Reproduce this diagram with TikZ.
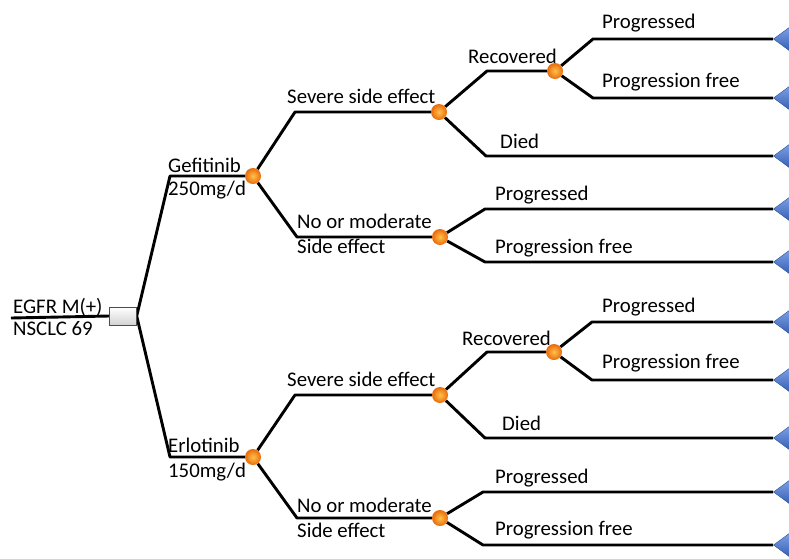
\documentclass[tikz,border=0pt]{standalone}
\usepackage{fontspec}
\setmainfont{Carlito}
\usetikzlibrary{shapes.geometric,backgrounds}
\definecolor{termblue}{HTML}{3C6FD6}
\definecolor{chancelight}{HTML}{FFC24A}
\definecolor{chancedark}{HTML}{E86A0C}
\begin{document}
\begin{tikzpicture}[x=1pt,y=-1pt,every node/.style={font=\fontsize{20.8}{25}\selectfont},
  txt/.style={anchor=base west,inner sep=0},
  decision/.style={draw=gray!60!black,thin,top color=white,bottom color=gray!35,minimum width=27pt,minimum height=18pt,inner sep=0},
  chance/.style={circle,inner color=chancelight,outer color=chancedark,minimum size=16pt,inner sep=0},
  terminal/.style={isosceles triangle,isosceles triangle stretches,shape border rotate=180,anchor=apex,top color=termblue!65!white,bottom color=termblue!85!black,draw=termblue!70!black,thin,minimum width=25pt,minimum height=17pt,inner sep=0},
  branch/.style={line width=2.9pt,line join=round}]
\useasboundingbox (0,0) rectangle (789,558);
% tree nodes
\coordinate (start) at (11,318);
\node[decision] (d0) at (123,316) {};
\node[chance] (cG) at (253,176) {};\node[chance] (cE) at (253,457) {};
\node[chance] (cGs) at (439,112) {};\node[chance] (cGn) at (440,237) {};\node[chance] (cGr) at (555,71) {};
\node[chance] (cEs) at (440,395) {};\node[chance] (cEn) at (440,518) {};\node[chance] (cEr) at (554,352) {};
\node[terminal] (tGrp) at (773,39) {};\node[terminal] (tGrf) at (773,98) {};\node[terminal] (tGd) at (773,156) {};
\node[terminal] (tGnp) at (773,209) {};\node[terminal] (tGnf) at (773,262) {};
\node[terminal] (tErp) at (773,322) {};\node[terminal] (tErf) at (773,380) {};\node[terminal] (tEd) at (773,438) {};
\node[terminal] (tEnp) at (773,492) {};\node[terminal] (tEnf) at (773,545) {};
% elbows
\coordinate (kG) at (170,176);\coordinate (kE) at (170,457);
\coordinate (kGs) at (295,112);\coordinate (kGn) at (297,237);\coordinate (kGr) at (487,71);\coordinate (kGd) at (486,156);
\coordinate (kGrp) at (593,39);\coordinate (kGrf) at (593,98);\coordinate (kGnp) at (485,209);\coordinate (kGnf) at (485,262);
\coordinate (kEs) at (295,395);\coordinate (kEn) at (297,518);\coordinate (kEr) at (487,352);\coordinate (kEd) at (485,438);
\coordinate (kErp) at (592,322);\coordinate (kErf) at (592,380);\coordinate (kEnp) at (483,492);\coordinate (kEnf) at (483,545);
\begin{scope}[on background layer]
\draw[branch] (start)--(d0.west);
\draw[branch] (d0.east)--(kG)--(cG);\draw[branch] (d0.east)--(kE)--(cE);
\draw[branch] (cG)--(kGs)--(cGs);\draw[branch] (cG)--(kGn)--(cGn);
\draw[branch] (cGs)--(kGr)--(cGr);\draw[branch] (cGs)--(kGd)--(tGd.apex);
\draw[branch] (cGr)--(kGrp)--(tGrp.apex);\draw[branch] (cGr)--(kGrf)--(tGrf.apex);
\draw[branch] (cGn)--(kGnp)--(tGnp.apex);\draw[branch] (cGn)--(kGnf)--(tGnf.apex);
\draw[branch] (cE)--(kEs)--(cEs);\draw[branch] (cE)--(kEn)--(cEn);
\draw[branch] (cEs)--(kEr)--(cEr);\draw[branch] (cEs)--(kEd)--(tEd.apex);
\draw[branch] (cEr)--(kErp)--(tErp.apex);\draw[branch] (cEr)--(kErf)--(tErf.apex);
\draw[branch] (cEn)--(kEnp)--(tEnp.apex);\draw[branch] (cEn)--(kEnf)--(tEnf.apex);
\end{scope}
% labels
\node[txt] (lroot) at (13,313) {EGFR M(+)};\node[txt] (lroot2) at (13,335) {NSCLC 69};
\node[txt] (lG) at (168,172) {Gefitinib};\node[txt] (lG2) at (168,195) {250mg/d};
\node[txt] (lE) at (168,452) {Erlotinib};\node[txt] (lE2) at (168,477) {150mg/d};
\node[txt] (lGs) at (287,103) {Severe side effect};\node[txt] (lEs) at (287,386) {Severe side effect};
\node[txt] (lGn) at (297,228) {No or moderate};\node[txt] (lGn2) at (297,253) {Side effect};
\node[txt] (lEn) at (297,512) {No or moderate};\node[txt] (lEn2) at (297,537) {Side effect};
\node[txt] (lGr) at (468,63) {Recovered};\node[txt] (lEr) at (462,345) {Recovered};
\node[txt] (lGd) at (500,148) {Died};\node[txt] (lEd) at (502,430) {Died};
\node[txt] (lGrp) at (602,28) {Progressed};\node[txt] (lGrf) at (602,87) {Progression free};
\node[txt] (lGnp) at (495,200) {Progressed};\node[txt] (lGnf) at (495,253) {Progression free};
\node[txt] (lErp) at (602,312) {Progressed};\node[txt] (lErf) at (602,368) {Progression free};
\node[txt] (lEnp) at (495,483) {Progressed};\node[txt] (lEnf) at (495,535) {Progression free};
\end{tikzpicture}
\end{document}
